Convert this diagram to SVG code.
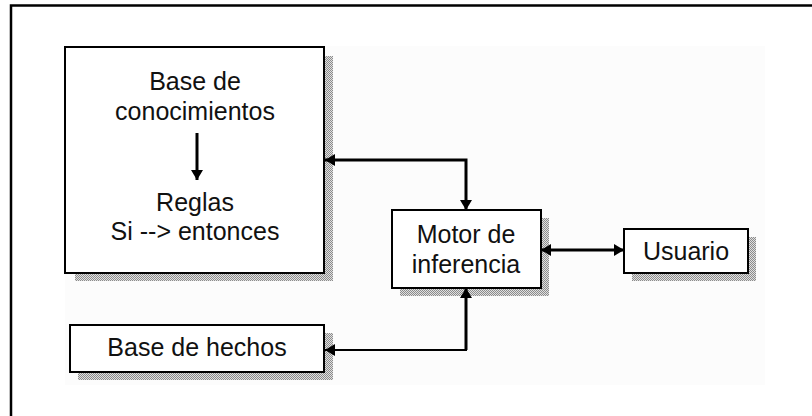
<svg xmlns="http://www.w3.org/2000/svg" width="812" height="416" viewBox="0 0 812 416">
<defs>
<pattern id="dither" width="2" height="2" patternUnits="userSpaceOnUse">
<rect width="2" height="2" fill="#e0e0e0"/>
<rect width="1" height="1" fill="#8c8c8c"/>
<rect x="1" y="1" width="1" height="1" fill="#8c8c8c"/>
</pattern>
<marker id="ah" viewBox="0 0 10 12" refX="10" refY="6" markerWidth="10" markerHeight="12" markerUnits="userSpaceOnUse" orient="auto-start-reverse">
<path d="M0,0 L10,6 L0,12 Z" fill="#000"/>
</marker>
<style>
.box{fill:#fff;stroke:#000;stroke-width:2}
.shadow{fill:url(#dither)}
.lbl{font-family:"Liberation Sans",Arial,sans-serif;font-size:25px;fill:#111;text-anchor:middle}
.con{fill:none;stroke:#000;stroke-width:3}
</style>
</defs>
<rect width="812" height="416" fill="#fff"/>
<rect x="65" y="46" width="700" height="339" fill="#fcfcfc"/>
<path d="M11,416 V5.5 H812" fill="none" stroke="#000" stroke-width="2.5"/>

<g id="base-conocimientos">
<rect class="shadow" x="325" y="56" width="8" height="225"/>
<rect class="shadow" x="75" y="274" width="258" height="7"/>
<rect class="box" x="65" y="47" width="259" height="226"/>
<text class="lbl" x="195" y="90">Base de</text>
<text class="lbl" x="195" y="120">conocimientos</text>
<line class="con" x1="197" y1="133" x2="197" y2="180" marker-end="url(#ah)"/>
<text class="lbl" x="195" y="211">Reglas</text>
<text class="lbl" x="195" y="240">Si --&gt; entonces</text>
</g>

<g id="motor">
<rect class="shadow" x="542" y="218" width="7" height="78"/>
<rect class="shadow" x="400" y="289" width="149" height="7"/>
<rect class="box" x="392" y="210" width="149" height="78"/>
<text class="lbl" x="466" y="243">Motor de</text>
<text class="lbl" x="466" y="273">inferencia</text>
</g>

<g id="usuario">
<rect class="shadow" x="749" y="237" width="7" height="44"/>
<rect class="shadow" x="632" y="274" width="124" height="7"/>
<rect class="box" x="624" y="229" width="124" height="44"/>
<text class="lbl" x="686" y="260">Usuario</text>
</g>

<g id="base-hechos">
<rect class="shadow" x="325" y="333" width="8" height="47"/>
<rect class="shadow" x="78" y="373" width="255" height="7"/>
<rect class="box" x="70" y="325" width="254" height="47"/>
<text class="lbl" x="197" y="356">Base de hechos</text>
</g>

<g id="connectors">
<polyline class="con" points="325,160 466,160 466,210" marker-start="url(#ah)" marker-end="url(#ah)"/>
<line class="con" x1="541" y1="250" x2="624" y2="250" marker-start="url(#ah)" marker-end="url(#ah)"/>
<polyline class="con" points="466,288 466,350" marker-start="url(#ah)"/>
<polyline fill="none" stroke="#000" stroke-width="2" points="467,350 325,350" marker-end="url(#ah)"/>
</g>
</svg>
